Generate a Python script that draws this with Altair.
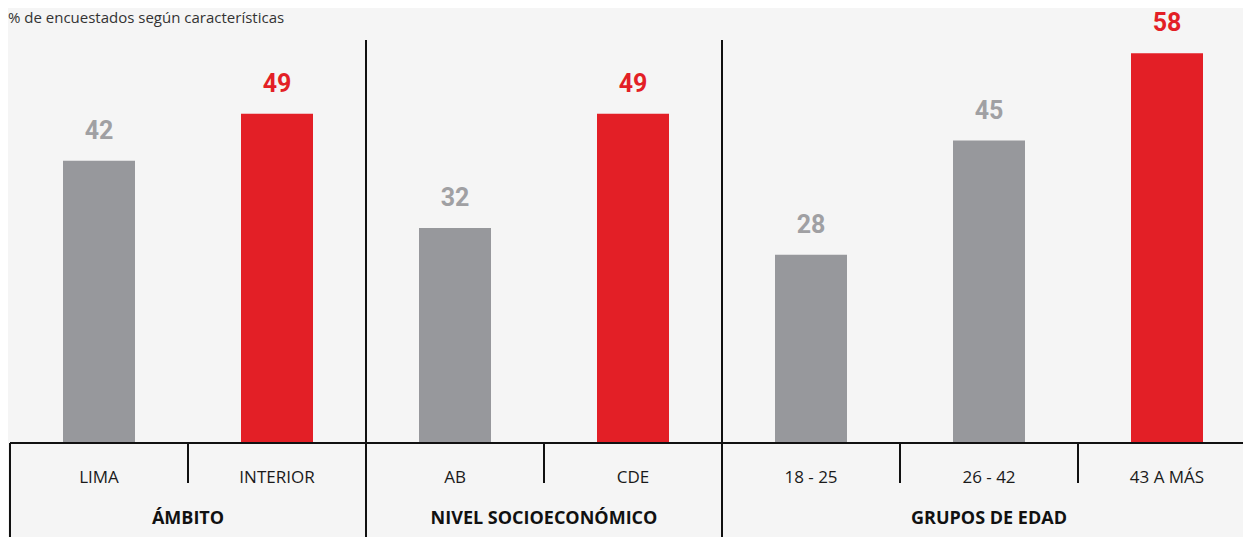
import altair as alt
import pandas as pd

categories = ["LIMA", "INTERIOR", "AB", "CDE", "18 - 25", "26 - 42", "43 A MÁS"]
values = [42, 49, 32, 49, 28, 45, 58]
highlight = [False, True, False, True, False, False, True]
groups = ["ÁMBITO", "NIVEL SOCIOECONÓMICO", "GRUPOS DE EDAD"]
group_sizes = [2, 2, 3]
subtitle = "% de encuestados según características"

GRAY = "#97989c"
GRAY_LABEL = "#a0a0a3"
RED = "#e31f26"
BG = "#f5f5f5"
INK = "#111111"

COL_W = 178
PLOT_W = 1233
PLOT_H = 435
BOTTOM = 94
PX_PER_UNIT = 6.72

bars_df = pd.DataFrame({
    "cat": categories,
    "pos": [i + 0.5 for i in range(len(categories))],
    "val": values,
    "hl": ["alto" if h else "normal" for h in highlight],
})

# group structure -> centres and divider positions (in column units)
g_center, inner_div, group_div = [], [], []
acc = 0
for gi, s in enumerate(group_sizes):
    g_center.append(acc + s / 2)
    for k in range(1, s):
        inner_div.append(acc + k)
    acc += s
    if gi < len(group_sizes) - 1:
        group_div.append(acc)

groups_df = pd.DataFrame({"grp": groups, "pos": g_center})
inner_df = pd.DataFrame({"pos": inner_div})
groupdiv_df = pd.DataFrame({"pos": group_div})
left_df = pd.DataFrame({"pos": [0]})

x_scale = alt.Scale(domain=[0, PLOT_W / COL_W], range=[0, PLOT_W], nice=False, zero=False, padding=0)
y_scale = alt.Scale(domain=[0, PLOT_H / PX_PER_UNIT], nice=False, zero=True, padding=0)


def X():
    return alt.X("pos:Q", scale=x_scale, axis=None)


def Y():
    return alt.Y("val:Q", scale=y_scale, axis=None)


base = alt.Chart(bars_df)

bars = base.mark_bar(size=72).encode(
    x=X(),
    y=Y(),
    y2=alt.datum(0),
    color=alt.Color("hl:N", scale=alt.Scale(domain=["normal", "alto"], range=[GRAY, RED]), legend=None),
)

labels = base.mark_text(
    font="Roboto", fontWeight="bold", fontSize=25, baseline="alphabetic", dy=-22
).encode(
    x=X(),
    y=Y(),
    text=alt.Text("val:Q"),
    fill=alt.Fill("hl:N", scale=alt.Scale(domain=["normal", "alto"], range=[GRAY_LABEL, RED]), legend=None),
)

cat_labels = base.mark_text(
    font="Open Sans", fontSize=17, baseline="middle", color="#1a1a1a"
).encode(
    x=X(),
    y=alt.value(PLOT_H + 35),
    text="cat:N",
)

grp_labels = alt.Chart(groups_df).mark_text(
    font="Open Sans", fontSize=18, fontWeight="bold", baseline="middle", color=INK
).encode(
    x=X(),
    y=alt.value(PLOT_H + 76),
    text="grp:N",
)

baseline_rule = alt.Chart(left_df).mark_rule(color=INK, strokeWidth=2).encode(
    x=alt.value(0),
    x2=alt.value(PLOT_W),
    y=alt.value(PLOT_H),
)

left_rule = alt.Chart(left_df).mark_rule(color=INK, strokeWidth=2).encode(
    x=X(),
    y=alt.value(PLOT_H),
    y2=alt.value(PLOT_H + BOTTOM),
)

inner_rules = alt.Chart(inner_df).mark_rule(color=INK, strokeWidth=2).encode(
    x=X(),
    y=alt.value(PLOT_H),
    y2=alt.value(PLOT_H + 40),
)

group_rules = alt.Chart(groupdiv_df).mark_rule(color=INK, strokeWidth=2).encode(
    x=X(),
    y=alt.value(32),
    y2=alt.value(PLOT_H + BOTTOM),
)

sub = alt.Chart(left_df).mark_text(
    font="Open Sans", fontSize=15, align="left", baseline="top", color="#333333"
).encode(
    x=alt.value(-2),
    y=alt.value(3),
    text=alt.value(subtitle),
)

chart = alt.layer(
    bars, labels, cat_labels, grp_labels, baseline_rule, left_rule, inner_rules, group_rules, sub
).resolve_scale(color="independent").properties(
    width=PLOT_W,
    height=PLOT_H,
    background=BG,
    padding={"left": 2, "top": 0, "right": 0, "bottom": BOTTOM},
    autosize=alt.AutoSizeParams(type="none"),
).configure_view(stroke=None)

chart.save("out.html", embed_options={"renderer": "svg", "actions": False})
